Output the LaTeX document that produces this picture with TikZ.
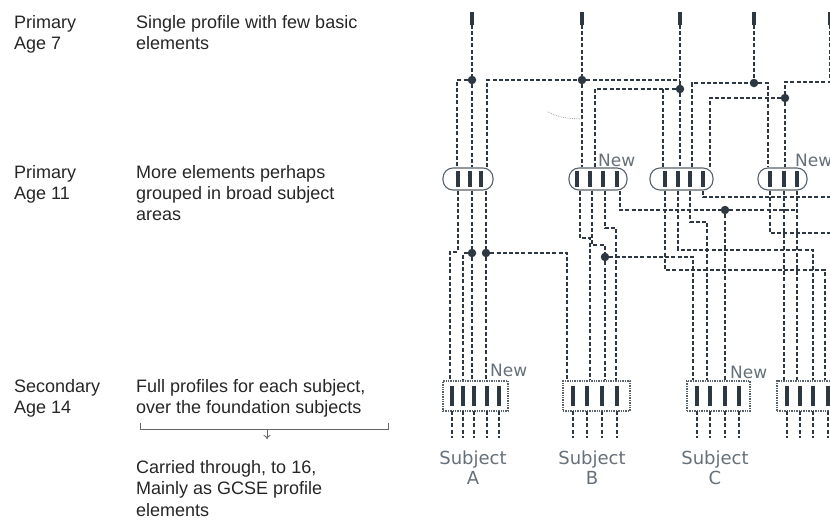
\documentclass[tikz,border=0pt]{standalone}
\usepackage{fontspec}
\setmainfont{Liberation Sans}
\newfontfamily\scanfont{DejaVu Sans}
\usetikzlibrary{arrows.meta}

\definecolor{ink}{HTML}{2E3843}
\definecolor{rim}{HTML}{58626C}
\definecolor{faded}{HTML}{66707A}

\begin{document}
\begin{tikzpicture}[x=1pt,y=-1pt,
	stage/.style={font=\fontsize{18}{21.2}\selectfont, text=black!85, align=left, anchor=base west, inner sep=0},
	wire/.style={draw=ink, line width=1.1pt, dash pattern=on 4pt off 2.2pt},
	bar/.style={draw=ink, line width=3.4pt},
	stub/.style={fill=ink, minimum width=3.6pt, minimum height=13pt, inner sep=0},
	junct/.style={circle, fill=ink, minimum size=8.5pt, inner sep=0},
	pill/.style={draw=rim, line width=1.1pt, rounded corners=10pt, minimum height=22pt, inner sep=0},
	box/.style={draw=rim, line width=1.4pt, densely dotted, minimum height=30pt, inner sep=0},
	newlbl/.style={font=\scanfont\fontsize{17}{20}\selectfont, text=faded, anchor=base west, inner sep=0},
	subj/.style={font=\scanfont\fontsize{18}{20}\selectfont, text=faded, align=center, anchor=base, inner sep=0}]
	\useasboundingbox (0,0) rectangle (830,531);
	\clip (0,0) rectangle (830,531);

	% left hand column (anchor is the last line's baseline)
	\node[stage] (age7) at (14,49.5) {Primary\\Age 7};
	\node[stage] (desc7) at (136,49.5) {Single profile with few basic\\elements};
	\node[stage] (age11) at (14,199.5) {Primary\\Age 11};
	\node[stage] (desc11) at (136,220.7) {More elements perhaps\\grouped in broad subject\\areas};
	\node[stage] (age14) at (14,413.5) {Secondary\\Age 14};
	\node[stage] (desc14) at (136,413.5) {Full profiles for each subject,\\over the foundation subjects};
	\node[stage] (gcse) at (136,516) {Carried through, to 16,\\Mainly as GCSE profile\\elements};

	\coordinate (brL) at (140,423);
	\coordinate (brR) at (388,423);
	\coordinate (brM) at (267,429);
	\draw[black!60, line width=1pt] (brL) -- (brL |- brM) -- (brR |- brM) -- (brR);
	\draw[black!60, line width=0.9pt, -{To[length=4pt,width=7pt]}] (brM) -- ++(0,10);

	% age 7 profiles
	\node[stub] (tA) at (472,18) {};
	\node[stub] (tB) at (582,18) {};
	\node[stub] (tC) at (680,18) {};
	\node[stub] (tD) at (754,18) {};
	\node[stub] (tE) at (830,18) {};

	% age 11 groups
	\node[pill, minimum width=50pt] (p1) at (468,179) {};
	\node[pill, minimum width=58pt] (p2) at (598,179) {};
	\node[pill, minimum width=63pt] (p3) at (681.5,179) {};
	\node[pill, minimum width=49pt] (p4) at (782.5,179) {};
	\foreach \x in {458,470,481,577,590,603,617,665,678,690,703,770,784,797}
		\draw[bar] (\x,171) -- (\x,187);
	\node[newlbl] (new2) at (598,166) {New};
	\node[newlbl] (new4) at (795,166) {New};

	% age 14 subjects
	\node[box, minimum width=65pt] (bA) at (475.5,396) {};
	\node[box, minimum width=67pt] (bB) at (596.5,396) {};
	\node[box, minimum width=63pt] (bC) at (718.5,396) {};
	\node[box, minimum width=68pt] (bD) at (811,396) {};
	\foreach \x in {452,463,474,487,499,573,587,602,617,697,710,725,739,787,800,813,828}
	{
		\draw[bar] (\x,386) -- (\x,406);
		\draw[wire] (\x,411) -- (\x,438);
	}
	\node[newlbl] (newA) at (490,376) {New};
	\node[newlbl] (newC) at (730,378) {New};
	\node[subj] (subA) at (473,484) {Subject\\A};
	\node[subj] (subB) at (592,484) {Subject\\B};
	\node[subj] (subC) at (715,484) {Subject\\C};

	% junctions
	\node[junct] (jA1) at (472,80) {};
	\node[junct] (jB1) at (582,80) {};
	\node[junct] (jC1) at (680,89) {};
	\node[junct] (jD1) at (754,83) {};
	\node[junct] (jE1) at (785,98) {};
	\node[junct] (jA2) at (472,253) {};
	\node[junct] (jA3) at (486,253) {};
	\node[junct] (jB2) at (605,257) {};
	\node[junct] (jC2) at (725,210) {};

	% top wiring
	\draw[wire] (tA.south) -- (jA1) -- (jA1 |- p1.north);
	\draw[wire] (jA1) -- (457,80) -- (457,0 |- p1.north);
	\draw[wire] (tB.south) -- (jB1) -- (jB1 |- p2.north);
	\draw[wire] (487,0 |- p1.north) -- (487,80) -- (jB1) -- (jB1 -| tC);
	\draw[wire] (tC.south) -- (jC1) -- (jC1 |- p3.north);
	\draw[wire] (595,0 |- p2.north) -- (595,89) -- (jC1);
	\draw[wire] (663,89) -- (663,0 |- p3.north);
	\draw[wire] (tD.south) -- (jD1);
	\draw[wire] (692,0 |- p3.north) -- (692,83) -- (jD1) -- (768,83) -- (768,0 |- p4.north);
	\draw[wire] (710,0 |- p3.north) -- (710,98) -- (jE1) -- (jE1 |- p4.north);
	\draw[wire] (tE.south) -- (830,82) -- (785,82) -- (jE1);
	\draw[black!35, densely dotted, line width=0.8pt] (548,112) .. controls (562,118) .. (582,119);

	% middle wiring
	\draw[wire] (458,0 |- p1.south) -- (458,252) -- (450,252) -- (450,0 |- bA.north);
	\draw[wire] (472,0 |- p1.south) -- (jA2) -- (jA2 |- bA.north);
	\draw[wire] (jA2) -- (463,253) -- (463,0 |- bA.north);
	\draw[wire] (486,0 |- p1.south) -- (jA3) -- (jA3 |- bA.north);
	\draw[wire] (jA3) -- (567,253) -- (567,0 |- bB.north);
	\draw[wire] (580,0 |- p2.south) -- (580,238) -- (590,238) -- (590,0 |- bB.north);
	\draw[wire] (592,0 |- p2.south) -- (592,245) -- (605,245) -- (jB2) -- (jB2 |- bB.north);
	\draw[wire] (605,0 |- p2.south) -- (605,228) -- (616,228) -- (616,0 |- bB.north);
	\draw[wire] (620,0 |- p2.south) -- (620,210) -- (jC2) -- (jC2 |- bC.north);
	\draw[wire] (jC2) -- (797,210);
	\draw[wire] (jB2) -- (693,257) -- (693,0 |- bC.north);
	\draw[wire] (665,0 |- p3.south) -- (665,270) -- (825,270) -- (825,0 |- bD.north);
	\draw[wire] (678,0 |- p3.south) -- (678,250) -- (813,250) -- (813,0 |- bD.north);
	\draw[wire] (690,0 |- p3.south) -- (690,222) -- (707,222) -- (707,0 |- bC.north);
	\draw[wire] (703,0 |- p3.south) -- (703,197) -- (840,197);
	\draw[wire] (770,0 |- p4.south) -- (770,233) -- (840,233);
	\draw[wire] (784,0 |- p4.south) -- (784,0 |- bD.north);
	\draw[wire] (797,0 |- p4.south) -- (797,0 |- bD.north);
\end{tikzpicture}
\end{document}
